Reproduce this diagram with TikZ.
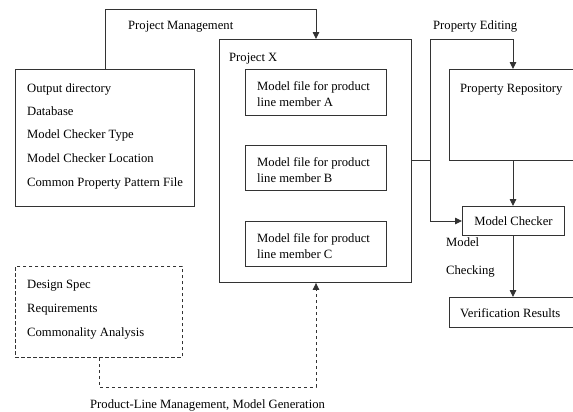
\documentclass[tikz,border=0pt]{standalone}
\usepackage{fontspec}
\setmainfont{Liberation Serif}
\usetikzlibrary{arrows.meta}
\begin{document}
\begin{tikzpicture}[x=1bp,y=-1bp,
  every node/.style={font=\fontsize{12.7}{14}\selectfont, inner sep=0pt},
  box/.style={draw=black!80, line width=0.9bp, anchor=north west},
  txt/.style={anchor=base west},
  conn/.style={draw=black!80, line width=0.9bp},
  arr/.style={conn, -{Triangle[length=7bp,width=6.5bp]}},
  dsh/.style={dashed, dash pattern=on 3.5bp off 2.5bp}]
\useasboundingbox (0,0) rectangle (573,411);
\clip (0,0) rectangle (573,411);
% left settings box
\node[box, minimum width=179bp, minimum height=137bp] (settings) at (15,69) {};
\node[txt] (s1) at (27,92) {Output directory};
\node[txt] (s2) at (27,115) {Database};
\node[txt] (s3) at (27,138) {Model Checker Type};
\node[txt] (s4) at (27,162) {Model Checker Location};
\node[txt] (s5) at (27,186) {Common Property Pattern File};
% dashed box
\node[box, dsh, minimum width=167bp, minimum height=91bp] (spec) at (15,266) {};
\node[txt] (d1) at (27,288) {Design Spec};
\node[txt] (d2) at (27,312) {Requirements};
\node[txt] (d3) at (27,336) {Commonality Analysis};
% project X
\node[box, minimum width=192bp, minimum height=243bp] (proj) at (219,39) {};
\node[txt] (projlbl) at (229,61) {Project X};
\node[box, minimum width=141bp, minimum height=46bp] (ma) at (245,69) {};
\node[txt] (ma1) at (257,90) {Model file for product};
\node[txt] (ma2) at (257,106) {line member A};
\node[box, minimum width=141bp, minimum height=45bp] (mb) at (245,145) {};
\node[txt] (mb1) at (257,166) {Model file for product};
\node[txt] (mb2) at (257,182) {line member B};
\node[box, minimum width=141bp, minimum height=45bp] (mc) at (245,221) {};
\node[txt] (mc1) at (257,242) {Model file for product};
\node[txt] (mc2) at (257,258) {line member C};
% right side
\node[box, minimum width=150bp, minimum height=91bp] (repo) at (449,69) {};
\node[txt] (repolbl) at (460,92) {Property Repository};
\node[box, minimum width=102bp, minimum height=29bp] (mcheck) at (462,206) {};
\node (mchecklbl) at (mcheck.center) {Model Checker};
\node[box, minimum width=150bp, minimum height=30bp] (ver) at (449,297) {};
\node[txt] (verlbl) at (460,317) {Verification Results};
\node[txt] (mcl1) at (446,246) {Model};
\node[txt] (mcl2) at (446,274) {Checking};
% labels
\node[txt] (pmlbl) at (128,29) {Project Management};
\node[txt] (pelbl) at (433,29) {Property Editing};
\node[txt] (pllbl) at (90,408) {Product-Line Management, Model Generation};
% coordinates
\coordinate (pmA) at (105,9);
\coordinate (pmB) at (316,9);
\coordinate (jn) at (430,160);
\coordinate (jtop) at (430,39);
\coordinate (jtopR) at (513,39);
\coordinate (jbot) at (430,221);
\coordinate (dA) at (99,387);
\coordinate (dB) at (316,387);
% connectors
\draw[arr] (settings.north -| pmA) -- (pmA) -- (pmB) -- (pmB |- proj.north);
\draw[conn] (proj.east |- jn) -- (jn);
\draw[conn] (jtop) -- (jbot);
\draw[arr] (jtop) -- (jtopR) -- (jtopR |- repo.north);
\draw[arr] (jbot) -- (mcheck.west |- jbot);
\draw[arr] (repo.south -| jtopR) -- (mcheck.north -| jtopR);
\draw[arr] (mcheck.south -| jtopR) -- (ver.north -| jtopR);
\draw[arr, dsh] (spec.south -| dA) -- (dA) -- (dB) -- (dB |- proj.south);
\end{tikzpicture}
\end{document}
